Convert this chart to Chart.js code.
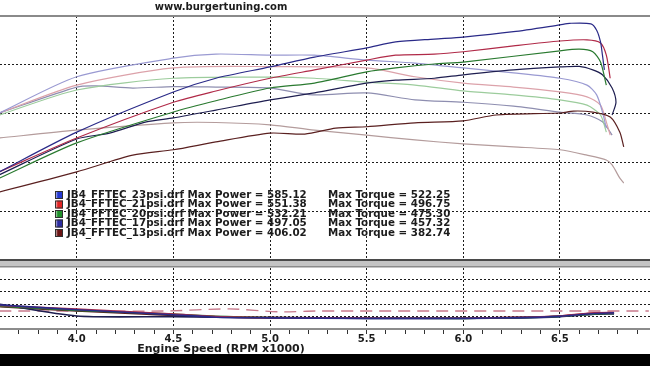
<!DOCTYPE html>
<html><head><meta charset="utf-8">
<script src="https://cdn.jsdelivr.net/npm/chart.js@4.4.1/dist/chart.umd.min.js"></script>
<style>
html,body{margin:0;padding:0;background:#000;}
#wrap{width:650px;height:354px;background:#fff;position:relative;}
canvas{display:block;}
</style></head><body><div id="wrap"><canvas id="c" width="650" height="354"></canvas></div>
<script>
// ---- text ----
const siteTitle = 'www.burgertuning.com';
const xTitle = 'Engine Speed (RPM x1000)';
const runNames = ['JB4_FFTEC_23psi.drf','JB4_FFTEC_21psi.drf','JB4_FFTEC_20psi.drf','JB4_FFTEC_17psi.drf','JB4_FFTEC_13psi.drf'];
const maxPower = ['585.12','551.38','532.21','497.05','406.02'];
const maxTorque = ['522.25','496.75','475.30','457.32','382.74'];

// ---- ticks ----
const rpmTicks = [3.7,3.8,3.9,4.0,4.1,4.2,4.3,4.4,4.5,4.6,4.7,4.8,4.9,5.0,5.1,5.2,5.3,5.4,5.5,5.6,5.7,5.8,5.9,6.0,6.1,6.2,6.3,6.4,6.5,6.6,6.7,6.8,6.9];
const rpmLabels = [4.0,4.5,5.0,5.5,6.0,6.5];
const upperGrid = [200,300,400,500];
const lowerGrid = [1,2,3,4];

// ---- power (upper panel) ----
const rpm23P = [3.60,4.00,4.50,4.72,5.00,5.23,5.50,5.65,5.85,6.00,6.26,6.50,6.55,6.66,6.69,6.71,6.72,6.73];
const pow23  = [282,363,445,473,496,516,535,547,553,557,568,582,585.1,584,571,547,520,490];
const rpm21P = [3.60,4.00,4.50,4.72,5.00,5.23,5.50,5.65,5.85,6.00,6.26,6.50,6.64,6.71,6.74,6.76];
const pow21  = [282,351,424,447,473,490,510,520,522,527,539,549,551.4,545,520,473];
const rpm20P = [3.60,4.00,4.50,4.72,5.00,5.23,5.50,5.65,5.85,6.00,6.50,6.60,6.67,6.71,6.74];
const pow20  = [269,341,404,427,453,463,486,494,502,506,529,532.2,527,506,459];
const rpm17P = [3.60,4.00,4.17,4.36,4.50,4.72,5.00,5.23,5.50,5.65,5.85,6.00,6.26,6.50,6.60,6.67,6.72,6.77,6.79,6.77];
const pow17  = [276,349,361,384,392,408,429,443,463,469,473,480,490,496,497.1,490,480,453,424,398];
const rpm13P = [3.60,4.00,4.29,4.50,4.72,5.00,5.18,5.34,5.50,5.75,6.00,6.17,6.50,6.57,6.67,6.76,6.81,6.83];
const pow13  = [241,282,316,327,343,361,359,371,374,382,386,398,402,406,404,394,363,333];

// ---- torque (upper panel) ----
const rpm23T = [3.60,4.00,4.50,4.72,5.00,5.23,5.50,5.75,6.00,6.26,6.50,6.64,6.69,6.72,6.74];
const tq23   = [402,476,514,522.3,520,520,510,504,494,484,473,459,439,404,371];
const rpm21T = [3.60,4.00,4.50,5.00,5.50,5.75,6.00,6.26,6.50,6.64,6.71,6.74,6.76];
const tq21   = [402,459,494,496.8,494,476,463,455,445,435,418,384,357];
const rpm20T = [3.60,4.00,4.50,5.00,5.23,5.50,5.75,6.00,6.26,6.50,6.64,6.71,6.74];
const tq20   = [398,449,473,475.3,473,465,459,447,439,429,418,398,363];
const rpm17T = [3.60,4.00,4.10,4.29,4.50,4.72,5.00,5.22,5.50,5.75,6.00,6.26,6.50,6.64,6.72,6.77];
const tq17   = [402,455,457.3,453,456,455,453,439,443,429,424,416,404,398,384,357];
const rpm13T = [3.60,4.00,4.50,4.72,5.00,5.23,5.50,5.75,6.00,6.26,6.50,6.64,6.74,6.77,6.81,6.83];
const tq13   = [351,367,382,382.7,378,367,357,347,339,333,327,316,306,296,269,259];

// ---- lower panel ----
const rpmLo = [3.60,4.00,4.50,4.72,5.00,5.50,6.00,6.30,6.50,6.68,6.78];
const lo23  = [1.95,1.55,1.15,0.95,0.90,0.86,0.86,0.92,1.02,1.25,1.30];
const lo21  = [1.90,1.60,1.20,1.00,0.92,0.88,0.87,0.95,1.05,1.30,1.32];
const lo20  = [1.85,1.50,1.20,1.02,0.93,0.88,0.86,0.93,1.02,1.22,1.25];
const lo17  = [2.00,1.05,1.00,0.96,0.92,0.86,0.85,0.90,1.00,1.20,1.22];
const lo13  = [1.80,1.45,1.10,0.98,0.90,0.88,0.88,0.94,1.04,1.28,1.30];
const rpmRef = [3.60,4.45,4.79,5.05,5.25,6.96];
const loRef  = [1.45,1.45,1.62,1.38,1.45,1.45];

// ---- colours ----
const powerColors  = ['#2a2a88','#b02a48','#2a7a30','#1e1e50','#5a2020'];
const torqueColors = ['#9a9ad2','#dca2aa','#9ccc9c','#8e8eb0','#b49c9c'];
const swatchColors = ['#2438d0','#e02424','#1f8f2a','#2c2ca0','#6a1414'];

const FONT = '"DejaVu Sans", Verdana, sans-serif';
const zip = (xs, ys) => xs.map((x, i) => ({x, y: ys[i]}));
const line = (xs, ys, color, axis, extra) => Object.assign({
  data: zip(xs, ys), borderColor: color, borderWidth: 1.2, pointRadius: 0,
  tension: 0.25, fill: false, yAxisID: axis
}, extra || {});

const powerSets = [[rpm23P,pow23],[rpm21P,pow21],[rpm20P,pow20],[rpm17P,pow17],[rpm13P,pow13]];
const torqueSets = [[rpm23T,tq23],[rpm21T,tq21],[rpm20T,tq20],[rpm17T,tq17],[rpm13T,tq13]];
const lowSets = [lo23,lo21,lo20,lo17,lo13];

const datasets = [];
powerSets.forEach((s, i) => datasets.push(line(s[0], s[1], powerColors[i], 'y')));
torqueSets.forEach((s, i) => datasets.push(line(s[0], s[1], torqueColors[i], 'y')));
lowSets.forEach((s, i) => datasets.push(line(rpmLo, s, powerColors[i], 'y2', {borderWidth: 1.6})));
datasets.push(line(rpmRef, loRef, '#c87a8c', 'y2', {borderDash: [12, 7], borderWidth: 1.4}));

const isMajor = v => rpmLabels.some(m => Math.abs(m - v) < 1e-6);

const decor = {
  id: 'decor',
  beforeDraw(chart) {
    const c = chart.ctx;
    c.save(); c.fillStyle = '#fff'; c.fillRect(0, 0, chart.width, chart.height); c.restore();
  },
  afterDraw(chart) {
    const c = chart.ctx;
    const W = chart.width;
    c.save();
    // top border
    c.fillStyle = '#8a8a8a'; c.fillRect(0, 15, W, 2);
    // separator band between panels
    c.fillStyle = '#c4c4c4'; c.fillRect(0, 259, W, 8);
    c.fillStyle = '#4a4a4a'; c.fillRect(0, 259, W, 2);
    c.fillStyle = '#8a8a8a'; c.fillRect(0, 266, W, 1.5);
    // title
    c.fillStyle = '#1c1c1c';
    c.font = 'bold 10px ' + FONT;
    c.textAlign = 'center'; c.textBaseline = 'middle';
    c.fillText(siteTitle, 221, 7);
    // x-axis title
    c.font = 'bold 11px ' + FONT;
    c.fillText(xTitle, 221, 349);
    // legend
    c.font = 'bold 10.3px ' + FONT;
    c.textAlign = 'left';
    runNames.forEach((n, i) => {
      const cy = 195 + i * 9.5;
      const g = c.createLinearGradient(55, 0, 63, 0);
      g.addColorStop(0, '#ffffff'); g.addColorStop(0.35, swatchColors[i]); g.addColorStop(1, swatchColors[i]);
      c.fillStyle = g; c.fillRect(55, cy - 4, 8, 8);
      c.strokeStyle = '#303030'; c.lineWidth = 1; c.strokeRect(55.5, cy - 3.5, 7, 7);
      c.fillStyle = '#1c1c1c';
      c.fillText(n + ' Max Power = ' + maxPower[i], 67, cy);
      c.fillText('Max Torque = ' + maxTorque[i], 328, cy);
    });
    c.restore();
  }
};

new Chart(document.getElementById('c'), {
  type: 'line',
  data: { datasets },
  options: {
    responsive: false, animation: false, devicePixelRatio: 1,
    layout: { padding: { top: 16, left: 0, right: 0, bottom: 0 } },
    plugins: { legend: { display: false }, tooltip: { enabled: false } },
    scales: {
      x: {
        type: 'linear', min: 3.603, max: 6.966,
        afterBuildTicks: s => { s.ticks = rpmTicks.map(v => ({value: v})); },
        afterFit: s => { s.height = 25; },
        grid: {
          color: ctx => (ctx.tick && isMajor(ctx.tick.value)) ? '#1c1c1c' : 'rgba(0,0,0,0)',
          lineWidth: 1, drawTicks: true, tickLength: 5,
          tickColor: '#333', tickWidth: 1, tickBorderDash: []
        },
        border: { display: true, color: '#8c8c8c', width: 2, dash: [2, 2] },
        ticks: {
          autoSkip: false, maxRotation: 0, minRotation: 0, padding: 0, color: '#1c1c1c',
          font: { family: FONT, weight: 'bold', size: 10, lineHeight: 1 },
          callback: v => isMajor(v) ? Number(v).toFixed(1) : ''
        },
        title: { display: false }
      },
      y: {
        type: 'linear', position: 'left', min: -38.78, max: 600,
        afterBuildTicks: s => { s.ticks = upperGrid.map(v => ({value: v})); },
        ticks: { display: false },
        grid: { drawTicks: false, color: '#1c1c1c', lineWidth: 1 },
        border: { display: false, dash: [2, 2] }
      },
      y2: {
        type: 'linear', position: 'right', min: 0, max: 25.24,
        afterBuildTicks: s => { s.ticks = lowerGrid.map(v => ({value: v})); },
        ticks: { display: false },
        grid: { drawTicks: false, color: '#1c1c1c', lineWidth: 1 },
        border: { display: false, dash: [2, 2] }
      }
    }
  },
  plugins: [decor]
});
</script></body></html>
